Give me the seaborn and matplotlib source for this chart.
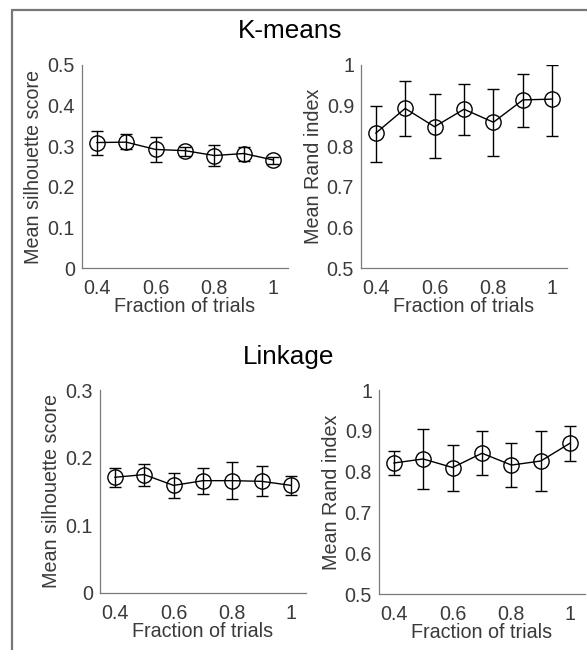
import numpy as np
import pandas as pd
import matplotlib
matplotlib.use("Agg")
import matplotlib.pyplot as plt
import seaborn as sns
from matplotlib.lines import Line2D

# ---------------- data ----------------
fractions = [0.4, 0.5, 0.6, 0.7, 0.8, 0.9, 1.0]

km_sil_mean = [0.309, 0.310, 0.292, 0.289, 0.277, 0.282, 0.266]
km_sil_low = [0.279, 0.293, 0.260, 0.276, 0.251, 0.263, 0.256]
km_sil_high = [0.338, 0.330, 0.322, 0.299, 0.304, 0.299, 0.274]

km_rand_mean = [0.832, 0.893, 0.848, 0.891, 0.859, 0.914, 0.916]
km_rand_low = [0.760, 0.825, 0.770, 0.828, 0.775, 0.848, 0.826]
km_rand_high = [0.900, 0.961, 0.928, 0.954, 0.941, 0.978, 1.000]

lk_sil_mean = [0.171, 0.175, 0.159, 0.166, 0.166, 0.165, 0.159]
lk_sil_low = [0.157, 0.158, 0.141, 0.146, 0.139, 0.143, 0.145]
lk_sil_high = [0.185, 0.191, 0.177, 0.185, 0.193, 0.187, 0.173]

lk_rand_mean = [0.821, 0.831, 0.810, 0.845, 0.816, 0.826, 0.870]
lk_rand_low = [0.791, 0.758, 0.752, 0.792, 0.762, 0.752, 0.826]
lk_rand_high = [0.851, 0.904, 0.865, 0.900, 0.870, 0.900, 0.912]

x_ticks = [0.4, 0.6, 0.8, 1.0]
x_ticklabels = ["0.4", "0.6", "0.8", "1"]
sil_top_ticks = [0, 0.1, 0.2, 0.3, 0.4, 0.5]
sil_top_labels = ["0", "0.1", "0.2", "0.3", "0.4", "0.5"]
sil_bot_ticks = [0, 0.1, 0.2, 0.3]
sil_bot_labels = ["0", "0.1", "0.2", "0.3"]
rand_ticks = [0.5, 0.6, 0.7, 0.8, 0.9, 1.0]
rand_labels = ["0.5", "0.6", "0.7", "0.8", "0.9", "1"]

xlabel = "Fraction of trials"
sil_label = "Mean silhouette score"
rand_label = "Mean Rand index"
titles = ["K-means", "Linkage"]

# ---------------- style ----------------
sns.set_style("white")
plt.rcParams["font.family"] = ["Liberation Sans", "DejaVu Sans"]

W, H = 587, 650
fig = plt.figure(figsize=(W / 100, H / 100), dpi=100)

spine_col = "#7a7a7a"
text_col = "#3a3a3a"
FS = 14.2


def px_axes(left, right, top, bottom):
    return fig.add_axes([left / W, 1 - bottom / H, (right - left) / W, (bottom - top) / H])


def panel(ax, mean, low, high, ylim, yticks, ylabels, ylab):
    df = pd.DataFrame({"frac": fractions, "val": mean})
    lo = np.array(mean) - np.array(low)
    hi = np.array(high) - np.array(mean)
    ax.errorbar(fractions, mean, yerr=[lo, hi], fmt="none", ecolor="black",
                elinewidth=1.0, capsize=4.5, capthick=1.0, zorder=2)
    sns.lineplot(data=df, x="frac", y="val", ax=ax, color="black", linewidth=1.0,
                 marker="o", markersize=11, markerfacecolor="none",
                 markeredgecolor="black", markeredgewidth=1.0, zorder=3)
    ax.set_xlim(0.35, 1.05)
    ax.set_ylim(*ylim)
    ax.set_xticks(x_ticks)
    ax.set_xticklabels(x_ticklabels)
    ax.set_yticks(yticks)
    ax.set_yticklabels(ylabels)
    ax.set_xlabel(xlabel, fontsize=FS, color=text_col, labelpad=-1)
    ax.set_ylabel(ylab, fontsize=FS, color=text_col, labelpad=3)
    ax.tick_params(axis="both", direction="in", length=4, width=0.8,
                   colors=spine_col, labelcolor=text_col, labelsize=FS)
    ax.tick_params(axis="x", pad=8)
    ax.tick_params(axis="y", pad=5)
    sns.despine(ax=ax)
    for s in ["left", "bottom"]:
        ax.spines[s].set_color(spine_col)
        ax.spines[s].set_linewidth(0.9)
    ax.patch.set_alpha(0)


ax1 = px_axes(82, 288, 65, 268)
ax2 = px_axes(361, 567, 65, 268)
ax3 = px_axes(100, 306, 390, 593)
ax4 = px_axes(379, 585, 390, 594)

panel(ax1, km_sil_mean, km_sil_low, km_sil_high, (0, 0.5), sil_top_ticks, sil_top_labels, sil_label)
panel(ax2, km_rand_mean, km_rand_low, km_rand_high, (0.5, 1.0), rand_ticks, rand_labels, rand_label)
panel(ax3, lk_sil_mean, lk_sil_low, lk_sil_high, (0, 0.3), sil_bot_ticks, sil_bot_labels, sil_label)
panel(ax4, lk_rand_mean, lk_rand_low, lk_rand_high, (0.5, 1.0), rand_ticks, rand_labels, rand_label)

fig.text(290 / W, 1 - 31 / H, titles[0], ha="center", va="center", fontsize=18.8, color="black")
fig.text(289 / W, 1 - 357 / H, titles[1], ha="center", va="center", fontsize=18.8, color="black")

# outer grey frame (left and top edges)
fig.add_artist(Line2D([12 / W, 12 / W], [0, 1 - 10 / H], transform=fig.transFigure,
                      color="#777777", linewidth=1.6))
fig.add_artist(Line2D([12 / W, 1], [1 - 10 / H, 1 - 10 / H], transform=fig.transFigure,
                      color="#777777", linewidth=1.6))

fig.savefig("out.png", dpi=100)
